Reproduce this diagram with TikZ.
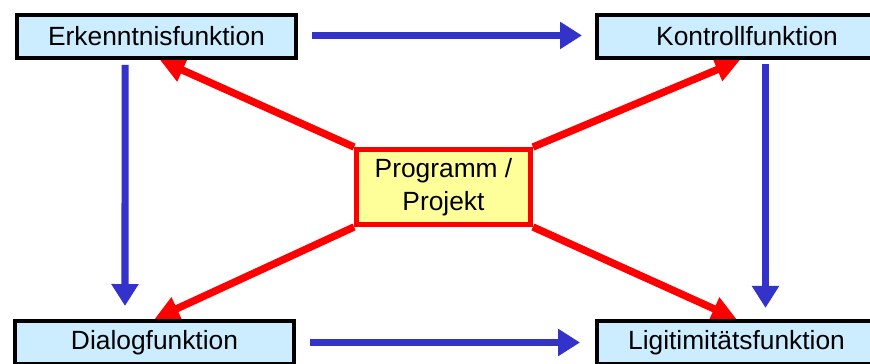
\documentclass[tikz,border=0pt]{standalone}
\usepackage{fontspec}
\setmainfont{Liberation Sans}
\usetikzlibrary{arrows.meta,backgrounds}

\definecolor{boxblue}{HTML}{CCECFF}
\definecolor{boxyellow}{HTML}{FFFF99}
\definecolor{arrowblue}{HTML}{3333CC}

\tikzset{
    funcbox/.style={draw=black, line width=2.3pt, fill=boxblue, inner sep=0pt,
        minimum width=158.8pt, minimum height=24.5pt},
    progbox/.style={draw=red, line width=2.8pt, fill=boxyellow, inner sep=0pt,
        minimum width=99pt, minimum height=42.7pt, align=center},
    bluearrow/.style={draw=arrowblue, line width=4pt,
        -{Triangle[length=12.5pt, width=14.8pt]}},
    redarrow/.style={draw=red, line width=4.2pt,
        -{Triangle[length=14pt, width=13.5pt]}}
}

\begin{document}
\begin{tikzpicture}[x=0.02cm, y=-0.02cm, font=\fontsize{15}{18.8}\selectfont]
        \useasboundingbox (0, 0) rectangle (870, 363);
        \clip (0, 0) rectangle (870, 363);
        \node (erk) at (156.5, 36.5) [funcbox] {Erkenntnisfunktion};
        \node (kon) at (736.5, 36.5) [funcbox] {\hspace{12pt}Kontrollfunktion};
        \node (dia) at (154.5, 342.5) [funcbox] {Dialogfunktion};
        \node (lig) at (736.5, 342.5) [funcbox] {Ligitimitätsfunktion};
        \node (prog) at (443.5, 187) [progbox] {Programm /\\Projekt};
        % arrows go under the boxes, so the red tips end hidden at the edges
        \begin{scope}[on background layer]
            \draw[bluearrow, shorten <=8pt, shorten >=7.4pt] ([yshift=0.6pt]erk.east) -- ([yshift=0.6pt]kon.west);
            \draw[bluearrow, shorten <=8pt, shorten >=8.5pt] (dia.east) -- (lig.west);
            \draw[bluearrow, shorten <=2.8pt, shorten >=7.4pt] ([xshift=-17.9pt]erk.south) -- ([xshift=-16.8pt]dia.north);
            \draw[bluearrow, shorten <=2.3pt, shorten >=6.3pt] ([xshift=16.5pt]kon.south) -- ([xshift=16.5pt]lig.north);
            \draw[redarrow] (prog.north west) -- ([xshift=2pt]erk.south);
            \draw[redarrow] (prog.north east) -- ([xshift=2pt]kon.south);
            \draw[redarrow] (prog.south west) -- (dia.north);
            \draw[redarrow] (prog.south east) -- (lig.north);
        \end{scope}
    \end{tikzpicture}
\end{document}
